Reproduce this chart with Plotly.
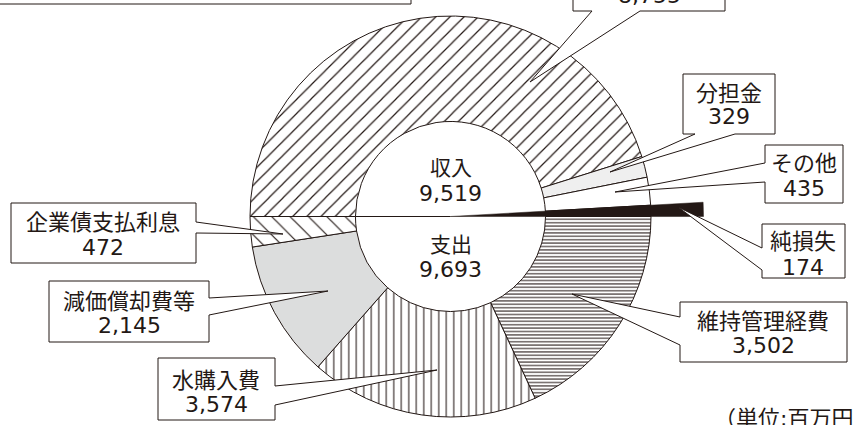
import numpy as np
import plotly.graph_objects as go

# ---------------- data ----------------
slice_labels = ["収入（主）", "分担金", "その他", "純損失",
                "維持管理経費", "水購入費", "減価償却費等", "企業債支払利息"]
slice_values = [8755, 329, 435, 174, 3502, 3574, 2145, 472]
value_text = ["8,755", "329", "435", "174", "3,502", "3,574", "2,145", "472"]
center_titles = ["収入", "支出"]
center_totals = ["9,519", "9,693"]
unit_text = "（単位:百万円）"

# ---------------- style / layout constants ----------------
W, H = 854, 425
INK = "#231815"
CX, CY = 450.5, 216.5          # donut centre (px)
R_OUT = 200.5                  # outer radius (px)
HOLE = 0.474
R_LOSS = 253                   # radius of the protruding 純損失 wedge
FONT_CJK = "DejaVu Sans, Noto Sans CJK JP"
FS = 22

fills = ["white", "#efefef", "white", INK, "white", "white", "#dcdddd", "white"]
pat_shapes = ["/", "", "", "", "-", "|", "", "\\"]
pat_sizes = [10, 8, 8, 8, 3.4, 7.5, 8, 13]
pat_solid = [0.12, 0.1, 0.1, 0.1, 0.3, 0.14, 0.1, 0.09]

# callout balloons: label index, box(x0,y0,x1,y1), side, base1, base2, tip, text x, name y, value y
callouts = [
    (0, (573, -40, 725, 11), "bottom", 592, 640, (530, 82), 649, None, -5),
    (1, (683, 74, 775, 134), "bottom", 695, 735, (610, 172), 729, 93, 117),
    (2, (765, 145, 843, 203), "left", 163, 182, (615, 192), 804, 163, 188),
    (3, (762, 224, 845, 278), "left", 248, 270, (678, 207), 803, 242, 267),
    (4, (680, 302, 847, 362), "left", 317, 345, (572, 294), 763, 321, 345),
    (5, (158, 358, 275, 420), "right", 386, 405, (437, 370), 216, 380, 404),
    (6, (49, 281, 209, 342), "right", 298, 315, (328, 291), 129, 301, 325),
    (7, (11, 203, 196, 263), "right", 222, 233, (283, 234), 103, 223, 247),
]

fig = go.Figure()

# --- protruding black wedge for 純損失 (under the pie, visible in hole and outside ring)
total_half = sum(slice_values) / 2.0
cum = np.cumsum([0] + slice_values)
i_loss = 3
phi0 = np.deg2rad(180 - cum[i_loss] / total_half * 180)
phi1 = np.deg2rad(180 - cum[i_loss + 1] / total_half * 180)
angs = np.linspace(phi0, phi1, 12)
wx = [CX] + list(CX + R_LOSS * np.cos(angs)) + [CX]
wy = [CY] + list(CY - R_LOSS * np.sin(angs)) + [CY]
fig.add_trace(go.Scatter(x=wx, y=wy, mode="lines", fill="toself", fillcolor=INK,
                         line=dict(color=INK, width=0.5), hoverinfo="skip",
                         showlegend=False))

# --- donut
fig.add_trace(go.Pie(
    values=slice_values, labels=slice_labels, sort=False,
    direction="clockwise", rotation=-90, hole=HOLE,
    textinfo="none", showlegend=False, hoverinfo="label+value",
    marker=dict(colors=fills, line=dict(color=INK, width=1),
                pattern=dict(shape=pat_shapes, size=pat_sizes, solidity=pat_solid,
                             fgcolor=INK, bgcolor="white")),
    domain=dict(x=[(CX - R_OUT) / W, (CX + R_OUT) / W],
                y=[(H - CY - R_OUT) / H, (H - CY + R_OUT) / H]),
))

shapes = []
annotations = []


def balloon(box, side, b1, b2, tip):
    x0, y0, x1, y1 = box
    if side == "right":
        pts = [(x0, y0), (x1, y0), (x1, b1), tip, (x1, b2), (x1, y1), (x0, y1)]
    elif side == "left":
        pts = [(x0, y0), (x1, y0), (x1, y1), (x0, y1), (x0, b2), tip, (x0, b1)]
    else:  # bottom
        pts = [(x0, y0), (x1, y0), (x1, y1), (b2, y1), tip, (b1, y1), (x0, y1)]
    return "M " + " L ".join(f"{x},{y}" for x, y in pts) + " Z"


def label(x, y, text, size=FS, anchor="center"):
    # paper-referenced so texts partly outside the frame are still drawn
    return dict(x=x / W, y=(H - y) / H, xref="paper", yref="paper", text=text,
                showarrow=False, xanchor=anchor, yanchor="middle",
                font=dict(family=FONT_CJK, size=size, color=INK))


# top-left cut-off box
shapes.append(dict(type="rect", xref="x", yref="y", x0=-5, y0=-40, x1=411, y1=4,
                   line=dict(color=INK, width=1), fillcolor="white", layer="above"))

# divider through the hole
r_in = R_OUT * HOLE
shapes.append(dict(type="line", xref="x", yref="y", x0=CX - r_in, y0=CY, x1=CX, y1=CY,
                   line=dict(color=INK, width=1), layer="above"))

for idx, box, side, b1, b2, tip, tx, ny, vy in callouts:
    shapes.append(dict(type="path", xref="x", yref="y", path=balloon(box, side, b1, b2, tip),
                       line=dict(color=INK, width=1), fillcolor="white", layer="above"))
    if ny is not None:
        annotations.append(label(tx, ny, slice_labels[idx]))
    annotations.append(label(tx, vy, value_text[idx]))

# centre texts
for title, tot, ty, vy in zip(center_titles, center_totals, [168, 245], [193, 269]):
    annotations.append(label(CX, ty, title, size=21))
    annotations.append(label(CX, vy, tot, size=22))

annotations.append(label(712, 418, unit_text, anchor="left"))

fig.update_layout(
    width=W, height=H, autosize=False,
    margin=dict(l=0, r=0, t=0, b=0),
    paper_bgcolor="white", plot_bgcolor="rgba(0,0,0,0)",
    xaxis=dict(range=[0, W], visible=False, fixedrange=True),
    yaxis=dict(range=[H, 0], visible=False, fixedrange=True),
    shapes=shapes, annotations=annotations,
)

fig.write_html("out.html", config={"displayModeBar": False},
               post_script="document.body.style.margin='0px';document.body.style.overflow='hidden';")
